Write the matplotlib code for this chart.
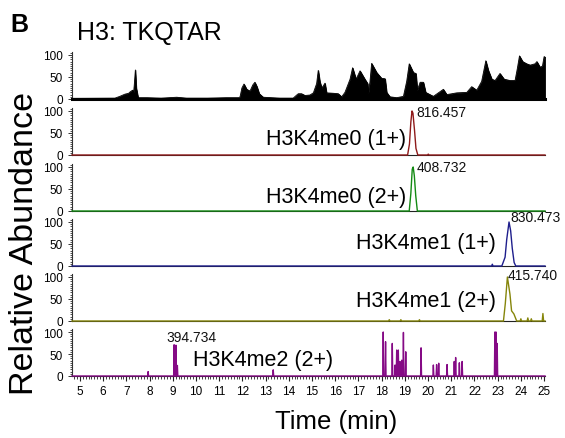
import matplotlib
matplotlib.use("Agg")
import matplotlib.pyplot as plt
from matplotlib.ticker import MultipleLocator

plt.rcParams['font.family'] = ['Liberation Sans', 'DejaVu Sans']

# ---------------- data ----------------
tic_time = [4.66, 6.51, 6.72, 6.94, 7.10, 7.16, 7.27, 7.31, 7.34, 7.39, 7.43, 7.51, 7.9, 8.5, 9.17,
            9.6, 10.5, 11.3, 11.85, 11.90, 11.98, 12.07, 12.19, 12.33, 12.45, 12.54, 12.63, 12.73,
            12.90, 13.62, 14.19, 14.34, 14.41, 14.55, 14.70, 14.91, 15.06, 15.20, 15.27, 15.34,
            15.42, 15.49, 15.56, 15.63, 15.92, 16.13, 16.28, 16.42, 16.64, 16.75, 16.90, 17.07,
            17.28, 17.40, 17.43, 17.50, 17.57, 17.79, 18.00, 18.15, 18.22, 18.36, 18.65, 18.94,
            19.08, 19.19, 19.37, 19.48, 19.54, 19.66, 19.80, 19.90, 20.23, 20.66, 20.81, 21.24,
            21.67, 21.88, 22.10, 22.31, 22.49, 22.60, 22.75, 22.89, 23.10, 23.28, 23.53, 23.75,
            23.85, 23.94, 24.08, 24.25, 24.40, 24.61, 24.69, 24.83, 24.93, 25.00, 25.04]
tic_int = [1.5, 2, 6, 11, 13, 16, 20, 14, 30, 66, 25, 3, 3, 2, 4,
           2, 2, 3, 3, 5, 25, 34, 22, 18, 32, 38, 28, 12,
           4, 2, 2, 9, 12, 12, 8, 9, 14, 35, 65, 40,
           25, 30, 36, 14, 13, 12, 5, 15, 45, 71, 45, 64,
           45, 35, 13, 40, 81, 60, 47, 46, 15, 5, 3, 6,
           40, 80, 60, 58, 20, 38, 38, 15, 6, 22, 10, 14,
           15, 28, 20, 40, 87, 65, 45, 42, 58, 45, 42, 42,
           70, 98, 85, 80, 77, 80, 85, 72, 75, 96, 96]

me0_1_time = [4.66, 19.12, 19.20, 19.26, 19.31, 19.35, 19.42, 19.48, 19.56, 19.98, 20.01, 20.04, 25.04]
me0_1_int = [0, 0, 25, 75, 100, 95, 55, 15, 0, 0, 2, 0, 0]

me0_2_time = [4.66, 19.19, 19.26, 19.32, 19.36, 19.41, 19.47, 19.54, 25.04]
me0_2_int = [0, 0, 40, 95, 100, 80, 35, 0, 0]

me1_1_time = [4.66, 22.74, 22.77, 22.80, 23.18, 23.32, 23.39, 23.49, 23.56, 23.63, 23.71, 23.78, 25.04]
me1_1_int = [0, 0, 4, 0, 0, 20, 60, 100, 80, 40, 8, 0, 0]

me1_2_time = [4.66, 18.30, 18.33, 18.36, 18.80, 18.83, 18.86, 19.60, 19.63, 19.66, 23.25, 23.33,
              23.42, 23.53, 23.60, 23.70, 23.82, 23.97, 24.00, 24.03, 24.27, 24.30, 24.33, 24.42,
              24.45, 24.48, 24.92, 24.95, 24.98, 25.04]
me1_2_int = [0, 0, 3, 0, 0, 3, 0, 0, 3, 0, 0, 40,
             100, 61, 23, 16, 0, 0, 5, 0, 0, 7, 0, 0,
             5, 0, 0, 17, 0, 0]

me2_spike_time = [7.94, 9.06, 9.14, 9.20, 13.33, 18.07, 18.17, 18.46, 18.58, 18.65, 18.72, 18.79,
                  18.87, 18.94, 19.04, 19.70, 20.23, 20.37, 20.46, 20.82, 21.13, 21.19, 21.35,
                  21.47, 22.88, 22.93, 22.98]
me2_spike_int = [10, 71, 70, 24, 14, 100, 78, 74, 25, 59, 59, 33,
                 36, 99, 55, 64, 25, 26, 29, 26, 33, 42, 30,
                 33, 100, 100, 74]

panel_labels = ["H3K4me0 (1+)", "H3K4me0 (2+)", "H3K4me1 (1+)", "H3K4me1 (2+)", "H3K4me2 (2+)"]
mass_labels = ["816.457", "408.732", "830.473", "415.740", "394.734"]
colors = ["#8e1a1a", "#138a13", "#1e1e8c", "#85850a", "#850a85"]
x_ticks = list(range(5, 26))
y_ticks = [0, 50, 100]

# ---------------- layout ----------------
W, H = 565, 439
fig = plt.figure(figsize=(W / 100, H / 100), dpi=100)
left_px, right_px = 72, 545
zero_px = [100, 156, 212, 267, 322, 377]
span100 = 44.0
ytop = 106
h_px = span100 * ytop / 100
XLIM = (4.66, 25.04)

axes = []
for z in zero_px:
    ax = fig.add_axes([left_px / W, 1 - z / H, (right_px - left_px) / W, h_px / H])
    ax.set_xlim(*XLIM)
    ax.set_ylim(0, ytop)
    for s in ("top", "right"):
        ax.spines[s].set_visible(False)
    ax.spines["left"].set_color("#333333")
    ax.spines["left"].set_linewidth(0.8)
    ax.spines["bottom"].set_color("#222222")
    ax.spines["bottom"].set_linewidth(0.8)
    ax.set_yticks(y_ticks)
    ax.yaxis.set_minor_locator(MultipleLocator(5))
    ax.tick_params(axis="y", which="major", direction="out", length=3, width=0.7,
                   labelsize=8.5, pad=3.5, color="#333333")
    ax.tick_params(axis="y", which="minor", direction="out", length=1.5, width=0.6,
                   color="#333333")
    ax.set_xticks(x_ticks)
    ax.xaxis.set_minor_locator(MultipleLocator(0.125))
    ax.patch.set_alpha(0)
    axes.append(ax)

for ax in axes[:-1]:
    ax.tick_params(axis="x", which="both", bottom=False, labelbottom=False)

axb = axes[-1]
axb.tick_params(axis="x", which="major", direction="out", length=3.5, width=0.8,
                labelsize=8.5, pad=3, color="#222222")
axb.tick_params(axis="x", which="minor", direction="out", length=2, width=0.6, color="#222222")

# TIC panel
ax = axes[0]
ax.fill_between(tic_time, 0, tic_int, color="black", lw=0.6, zorder=3)
ax.plot(tic_time, tic_int, color="black", lw=0.6, zorder=3)
ax.axhline(0, color="black", lw=2.2, clip_on=False, zorder=4)

series = [(me0_1_time, me0_1_int), (me0_2_time, me0_2_int),
          (me1_1_time, me1_1_int), (me1_2_time, me1_2_int)]
for ax, (t, y), c in zip(axes[1:5], series, colors[:4]):
    ax.plot(t, y, color=c, lw=1.0, clip_on=False, zorder=3)

# purple spikes
xs, ys = [XLIM[0]], [0]
hw = 0.02
for t, h in zip(me2_spike_time, me2_spike_int):
    xs += [t - hw, t, t + hw]
    ys += [0, h, 0]
xs.append(XLIM[1]); ys.append(0)
axes[5].plot(xs, ys, color=colors[4], lw=1.0, clip_on=False, zorder=3)

# panel labels
lab_pos = [(19.05, 26, "right"), (19.05, 21, "right"), (22.93, 40, "right"),
           (22.93, 33, "right"), (9.87, 24, "left")]
for ax, lab, (x, y, ha) in zip(axes[1:], panel_labels, lab_pos):
    ax.text(x, y, lab, ha=ha, va="baseline", fontsize=15.5, color="black")

mass_pos = [(19.48, 89), (19.53, 92), (23.53, 103), (23.45, 95), (8.71, 80)]
for ax, lab, (x, y) in zip(axes[1:], mass_labels, mass_pos):
    ax.text(x, y, lab, ha="left", va="baseline", fontsize=10, color="#111111",
            clip_on=False)

fig.text(10 / W, 1 - 32 / H, "B", fontsize=18, fontweight="bold", va="baseline", ha="left")
fig.text(77 / W, 1 - 40 / H, "H3: TKQTAR", fontsize=18, va="baseline", ha="left")
fig.text(25 / W, 1 - 243 / H, "Relative Abundance", fontsize=24.5, rotation=90,
         ha="center", va="center")
fig.text(336 / W, 1 - 429 / H, "Time (min)", fontsize=18.5, ha="center", va="baseline")

fig.savefig("out.png", dpi=100)
